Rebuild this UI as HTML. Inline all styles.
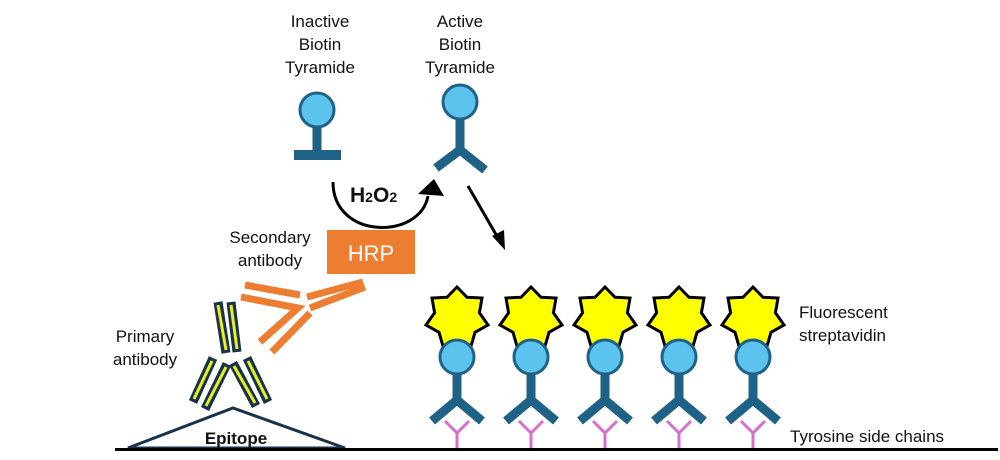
<!DOCTYPE html>
<html><head><meta charset="utf-8"><style>
html,body{margin:0;padding:0;background:#fff;}
svg{display:block;font-family:"Liberation Sans",Arial,sans-serif;}
</style></head><body>
<svg width="1000" height="460" viewBox="0 0 1000 460" xmlns="http://www.w3.org/2000/svg">
<defs>
<g id="unit">
  <polygon points="0,-31 10,-20.7 25,-20 22.4,-5.2 31,7 18,14.3 13.9,28.5 0,23 -13.9,28.5 -18,14.3 -31,7 -22.4,-5.2 -25,-20 -10,-20.7" fill="#FFFF00" stroke="#000" stroke-width="3" stroke-linejoin="miter"/>
  <line x1="0" y1="50" x2="0" y2="82" stroke="#1F6288" stroke-width="9"/>
  <polyline points="-25,103 0,82 25,103" fill="none" stroke="#1F6288" stroke-width="9"/>
  <circle cx="0" cy="39" r="17" fill="#5BC3EE" stroke="#1F6288" stroke-width="3"/>
  <polyline points="-12,103 0,115 12,103" fill="none" stroke="#D96FCC" stroke-width="3"/>
  <line x1="0" y1="115" x2="0" y2="130" stroke="#D96FCC" stroke-width="3"/>
</g>
</defs>

<g font-size="17" fill="#111" text-anchor="middle">
<text x="320" y="27">Inactive</text><text x="320" y="50">Biotin</text><text x="320" y="73">Tyramide</text>
<text x="460" y="27">Active</text><text x="460" y="50">Biotin</text><text x="460" y="73">Tyramide</text>
<text x="270" y="243">Secondary</text><text x="270" y="266">antibody</text>
<text x="145" y="342">Primary</text><text x="145" y="365">antibody</text>
</g>
<g font-size="17" fill="#111">
<text x="799" y="318">Fluorescent</text><text x="799" y="341">streptavidin</text>
<text x="790" y="442">Tyrosine side chains</text>
</g>

<line x1="317" y1="125" x2="317" y2="153" stroke="#1F6288" stroke-width="9"/>
<rect x="294" y="150" width="47" height="10" fill="#1F6288"/>
<circle cx="317" cy="110" r="17" fill="#5BC3EE" stroke="#1F6288" stroke-width="3"/>
<line x1="460" y1="118" x2="460" y2="150" stroke="#1F6288" stroke-width="9"/>
<polyline points="436,168 460,150 485,170" fill="none" stroke="#1F6288" stroke-width="9"/>
<circle cx="460" cy="102" r="17" fill="#5BC3EE" stroke="#1F6288" stroke-width="3"/>

<path d="M333,182 C333,240 420,240 428,196" fill="none" stroke="#000" stroke-width="3"/>
<polygon points="434,179 418,194 444,196" fill="#000"/>
<text x="350" y="202" font-size="21" font-weight="bold" fill="#111">H<tspan font-size="14">2</tspan>O<tspan font-size="14">2</tspan></text>
<line x1="468" y1="186" x2="498" y2="238" stroke="#000" stroke-width="3"/>
<polygon points="505,250 492,236 504,230" fill="#000"/>

<rect x="327" y="230" width="88" height="44" fill="#ED7D31"/>
<text x="371" y="261" font-size="22" fill="#fff" text-anchor="middle">HRP</text>

<g stroke="#ED7D31" stroke-width="7" fill="none">
<line x1="245" y1="285" x2="300" y2="295"/>
<polyline points="241,297 298,308 260,342"/>
<line x1="310" y1="313" x2="272" y2="352"/>
<line x1="307" y1="297" x2="363" y2="282"/>
<line x1="310" y1="308" x2="365" y2="287"/>
</g>

<g stroke="#17324A" stroke-width="9" stroke-linecap="butt">
<line x1="218" y1="302" x2="226" y2="353"/>
<line x1="231" y1="302" x2="237" y2="352"/>
<line x1="213" y1="358" x2="193" y2="402"/>
<line x1="227" y1="364" x2="205" y2="409"/>
<line x1="233" y1="363" x2="256" y2="406"/>
<line x1="247" y1="358" x2="268" y2="402"/>
</g>
<g stroke="#E8F020" stroke-width="3">
<line x1="218" y1="305" x2="226" y2="350"/>
<line x1="231" y1="305" x2="237" y2="349"/>
<line x1="212" y1="361" x2="194" y2="399"/>
<line x1="226" y1="367" x2="206" y2="406"/>
<line x1="234" y1="366" x2="255" y2="403"/>
<line x1="248" y1="361" x2="267" y2="399"/>
</g>

<polygon points="128,448 233,408 345,448" fill="#fff" stroke="#17324A" stroke-width="3" stroke-linejoin="miter"/>
<text x="236" y="444" font-size="17" font-weight="bold" fill="#111" text-anchor="middle">Epitope</text>

<use href="#unit" x="457" y="318"/>
<use href="#unit" x="531" y="318"/>
<use href="#unit" x="605" y="318"/>
<use href="#unit" x="679" y="318"/>
<use href="#unit" x="753" y="318"/>

<line x1="115" y1="449.5" x2="998" y2="449.5" stroke="#000" stroke-width="3"/>
</svg>
</body></html>
